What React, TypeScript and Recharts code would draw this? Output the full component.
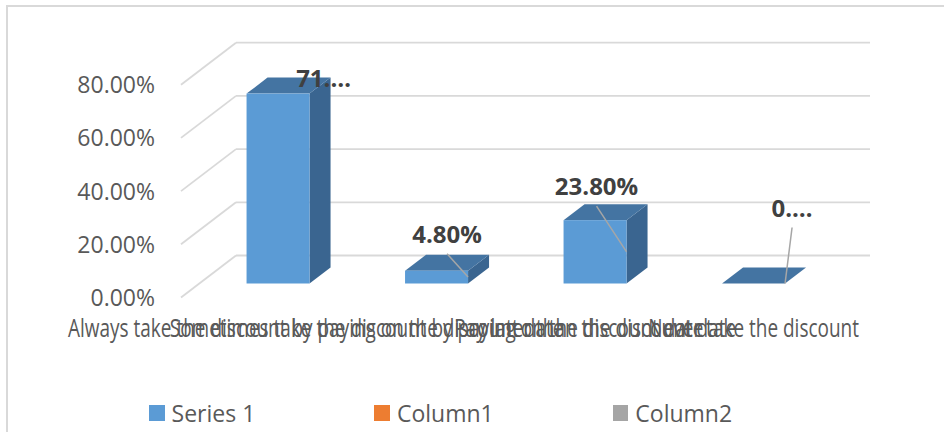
import { BarChart, Bar, XAxis, YAxis, CartesianGrid, LabelList } from 'recharts';

const CATEGORIES = [
    'Always take the discount by paying on the discount date',
    'Sometimes take the discount by paying on the discount date',
    'Pay later than the discount date',
    'Never take the discount',
];
const SERIES_1 = [0.714, 0.048, 0.238, 0];
const BAR_LABELS = ['71.…', '4.80%', '23.80%', '0.…'];
const Y_TICKS = [0, 0.2, 0.4, 0.6, 0.8];
const LEGEND_NAMES = ['Series 1', 'Column1', 'Column2'];
const LEGEND_COLORS = ['#5b9bd5', '#ed7d31', '#a5a5a5'];

// label placement tweaks (Excel moved some labels by hand)
const LABEL_NUDGE = [[35, 9], [0, -12], [-9, -9], [28, -51]];
const HAS_LEADER = [false, true, true, true];

const data = CATEGORIES.map((name, i) => ({ name, value: SERIES_1[i] }));

// depth of the fake 3D: bar top/side, back wall, front floor edge
const DEPTH = { dx: 21, dy: -16 };
const BACK = { dx: 37, dy: -28 };
const FRONT = { dx: -18, dy: 14 };
const GRID = '#d9d9d9';
const TEXT = '#595959';
const FONT = '"Open Sans", sans-serif';

const measure = (() => {
    let ctx: CanvasRenderingContext2D | null = null;
    return (text: string, font: string) => {
        if (!ctx) ctx = document.createElement('canvas').getContext('2d');
        if (!ctx) return text.length * 10;
        ctx.font = font;
        return ctx.measureText(text).width;
    };
})();

function Bar3D(props: any) {
    const { x, y, width: w, height: h } = props;
    const { dx, dy } = DEPTH;
    return (
        <g>
            <polygon
                points={`${x + w},${y} ${x + w + dx},${y + dy} ${x + w + dx},${y + h + dy} ${x + w},${y + h}`}
                fill="#3a6590"
            />
            <polygon
                points={`${x},${y} ${x + dx},${y + dy} ${x + w + dx},${y + dy} ${x + w},${y}`}
                fill="#4474a2"
            />
            {h > 0 && <rect x={x} y={y} width={w} height={h} fill="#5b9bd5" />}
        </g>
    );
}

function BarLabel(props: any) {
    const { x, y, width: w, height: h, index } = props;
    const [nx, ny] = LABEL_NUDGE[index];
    const cx = x + w / 2 + DEPTH.dx / 2 + nx;
    const base = y + DEPTH.dy + ny;
    return (
        <g>
            {HAS_LEADER[index] && (
                <line x1={cx} y1={base + 11} x2={x + w} y2={y + h / 2} stroke="#a6a6a6" strokeWidth={1.5} />
            )}
            <text x={cx} y={base} textAnchor="middle" fontFamily={FONT} fontSize={24} fontWeight={700} fill="#404040">
                {BAR_LABELS[index]}
            </text>
        </g>
    );
}

function GridLine(props: any) {
    const { x1, x2, y1 } = props;
    const by = y1 + BACK.dy;
    const bx = x1 + BACK.dx;
    return (
        <g>
            <line x1={bx} y1={by} x2={x2 + BACK.dx} y2={by} stroke={GRID} strokeWidth={1.8} />
            <line x1={bx} y1={by} x2={x1 + FRONT.dx} y2={y1 + FRONT.dy} stroke={GRID} strokeWidth={1.8} />
        </g>
    );
}

function YTick(props: any) {
    const { x, y, payload } = props;
    return (
        <text x={x - 44} y={y + 22.5} textAnchor="end" fontFamily={FONT} fontSize={23} fill={TEXT}>
            {(payload.value * 100).toFixed(2)}%
        </text>
    );
}

function XTick(props: any) {
    const { x, y, payload } = props;
    const sx = 0.76;
    const w = measure(payload.value, `25px ${FONT}`) * sx;
    const left = Math.max(68, x - w / 2);
    return (
        <text
            transform={`translate(${left},${y + 53.5}) scale(${sx},1)`}
            fontFamily={FONT}
            fontSize={25}
            fill={TEXT}
        >
            {payload.value}
        </text>
    );
}

export default function App() {
    return (
        <div style={{ position: 'absolute', left: 0, top: 0, width: 944, height: 432, overflow: 'hidden', background: '#fff' }}>
            <div
                style={{
                    position: 'absolute',
                    left: 6,
                    top: 5,
                    width: 960,
                    height: 440,
                    borderTop: `2px solid ${GRID}`,
                    borderLeft: `2px solid ${GRID}`,
                }}
            />
            <div style={{ position: 'absolute', left: 0, top: 0 }}>
                <BarChart
                    width={944}
                    height={432}
                    data={data}
                    margin={{ top: 70.7, right: 111, bottom: 118.5, left: 139 }}
                    barCategoryGap="30%"
                >
                    <CartesianGrid vertical={false} horizontal={(p: any) => <GridLine key={p.key} {...p} />} />
                    <XAxis
                        dataKey="name"
                        height={30}
                        axisLine={false}
                        tickLine={false}
                        tickSize={0}
                        tickMargin={0}
                        interval={0}
                        tick={<XTick />}
                    />
                    <YAxis
                        width={60}
                        domain={[0, 0.8]}
                        ticks={Y_TICKS}
                        axisLine={false}
                        tickLine={false}
                        tickSize={0}
                        tickMargin={0}
                        tick={<YTick />}
                    />
                    <Bar dataKey="value" fill="#5b9bd5" shape={(p: any) => <Bar3D {...p} />} isAnimationActive={false}>
                        <LabelList dataKey="value" content={(p: any) => <BarLabel {...p} />} />
                    </Bar>
                </BarChart>
            </div>
            <div
                style={{
                    position: 'absolute',
                    left: 149,
                    top: 401.5,
                    display: 'flex',
                    alignItems: 'center',
                    gap: 119,
                    fontFamily: FONT,
                    fontSize: 23,
                    lineHeight: '23px',
                    color: TEXT,
                    whiteSpace: 'nowrap',
                }}
            >
                {LEGEND_NAMES.map((name, i) => (
                    <div key={name} style={{ display: 'flex', alignItems: 'center', gap: 7 }}>
                        <span style={{ width: 15.6, height: 15.6, background: LEGEND_COLORS[i], display: 'inline-block' }} />
                        <span>{name}</span>
                    </div>
                ))}
            </div>
        </div>
    );
}
